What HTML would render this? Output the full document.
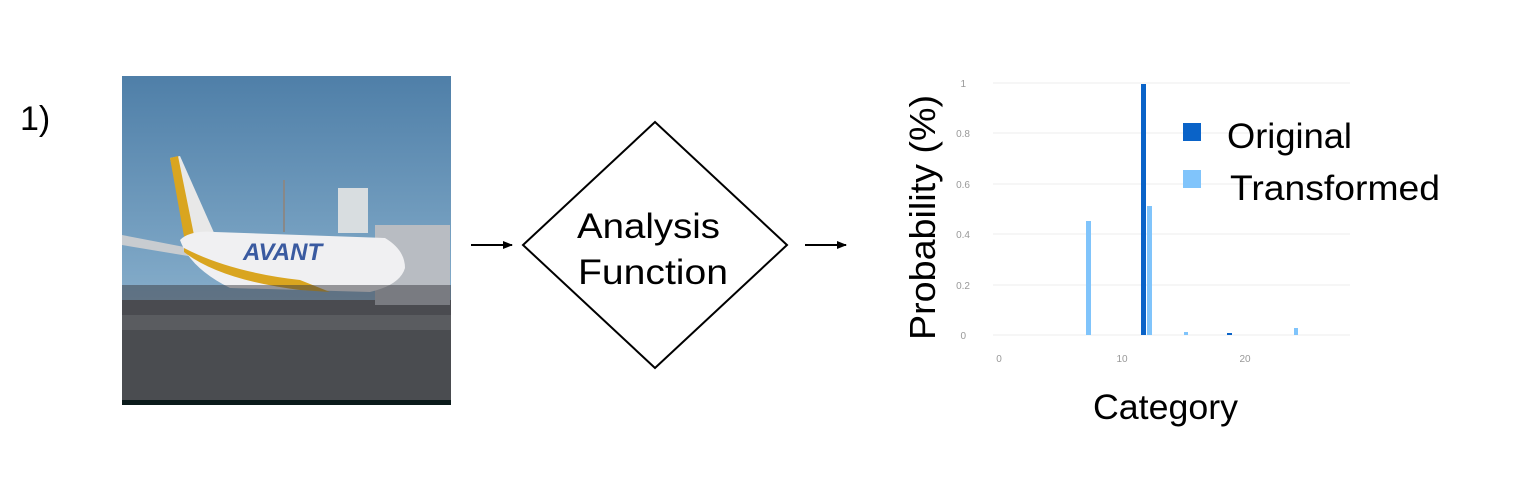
<!DOCTYPE html>
<html><head><style>
body{margin:0;width:1522px;height:476px;background:#fff;overflow:hidden;font-family:"Liberation Sans",sans-serif}
</style></head><body>
<svg width="1522" height="476" viewBox="0 0 1522 476" xmlns="http://www.w3.org/2000/svg" font-family="Liberation Sans, sans-serif">
<defs>
<linearGradient id="sky" x1="0" y1="0" x2="0" y2="1"><stop offset="0" stop-color="#4f7fa8"/><stop offset="0.6" stop-color="#7ea7c6"/><stop offset="1" stop-color="#a7c0d2"/></linearGradient>
<marker id="ah" markerWidth="10" markerHeight="10" refX="9" refY="5" orient="auto" markerUnits="userSpaceOnUse"><path d="M0,1 L10,5 L0,9 z" fill="#000"/></marker>
</defs>
<text x="20" y="130" font-size="34">1)</text>
<!-- photo -->
<rect x="122" y="76" width="329" height="329" fill="url(#sky)"/>
<rect x="122" y="300" width="329" height="105" fill="#5a5c60"/>
<rect x="122" y="330" width="329" height="75" fill="#4a4c50"/>
<rect x="122" y="400" width="329" height="5" fill="#0a1a1a"/>
<rect x="338" y="188" width="30" height="45" fill="#d8dde0"/>
<rect x="375" y="225" width="75" height="80" fill="#b8bcc2"/>
<line x1="284" y1="180" x2="284" y2="232" stroke="#888" stroke-width="2"/>
<path d="M122,235 L200,250 L200,258 L122,245 Z" fill="#c8ccd0"/>
<path d="M170,158 L180,156 L215,235 L190,240 Z" fill="#e8e8e8"/>
<path d="M170,158 L178,156 L195,240 L185,242 Z" fill="#d9a520"/>
<path d="M180,240 Q190,230 215,232 L385,238 Q405,250 405,268 Q400,285 370,292 L230,288 Q190,268 180,240 Z" fill="#f0f0f2"/>
<path d="M184,248 Q230,272 300,280 L330,292 L300,290 Q220,280 184,252 Z" fill="#d9a520"/>
<text x="243" y="260" font-size="24" font-weight="bold" fill="#3a5aa0" font-style="italic">AVANT</text>
<rect x="122" y="285" width="329" height="30" fill="#3a3a40" opacity="0.5"/>
<!-- arrows -->
<line x1="471" y1="245" x2="512" y2="245" stroke="#000" stroke-width="2" marker-end="url(#ah)"/>
<line x1="805" y1="245" x2="846" y2="245" stroke="#000" stroke-width="2" marker-end="url(#ah)"/>
<!-- diamond -->
<polygon points="655,122 787,245 655,368 523,245" fill="#fff" stroke="#000" stroke-width="2"/>
<text x="577" y="238" font-size="35" textLength="143" lengthAdjust="spacingAndGlyphs">Analysis</text>
<text x="578" y="284" font-size="35" textLength="150" lengthAdjust="spacingAndGlyphs">Function</text>
<!-- chart -->
<g stroke="#eee" stroke-width="1">
<line x1="993" y1="83" x2="1350" y2="83"/><line x1="993" y1="133" x2="1350" y2="133"/>
<line x1="993" y1="184" x2="1350" y2="184"/><line x1="993" y1="234" x2="1350" y2="234"/>
<line x1="993" y1="285" x2="1350" y2="285"/><line x1="993" y1="335" x2="1350" y2="335"/>
</g>
<g font-size="10" fill="#999" text-anchor="end">
<text x="966" y="87">1</text><text x="970" y="137">0.8</text><text x="970" y="188">0.6</text>
<text x="970" y="238">0.4</text><text x="970" y="289">0.2</text><text x="966" y="339">0</text>
</g>
<g font-size="10" fill="#999" text-anchor="middle">
<text x="999" y="362">0</text><text x="1122" y="362">10</text><text x="1245" y="362">20</text>
</g>
<rect x="1086" y="221" width="5" height="114" fill="#80c4fb"/>
<rect x="1141" y="84" width="5" height="251" fill="#0a63c8"/>
<rect x="1147" y="206" width="5" height="129" fill="#80c4fb"/>
<rect x="1184" y="332" width="4" height="3" fill="#80c4fb"/>
<rect x="1227" y="333" width="5" height="2" fill="#0a63c8"/>
<rect x="1294" y="328" width="4" height="7" fill="#80c4fb"/>
<rect x="1183" y="123" width="18" height="18" fill="#0a63c8"/>
<rect x="1183" y="170" width="18" height="18" fill="#80c4fb"/>
<text x="1227" y="148" font-size="35" textLength="125" lengthAdjust="spacingAndGlyphs">Original</text>
<text x="1230" y="200" font-size="35" textLength="210" lengthAdjust="spacingAndGlyphs">Transformed</text>
<text transform="translate(935,340) rotate(-90)" font-size="36" textLength="245" lengthAdjust="spacingAndGlyphs">Probability (%)</text>
<text x="1093" y="419" font-size="35" textLength="145" lengthAdjust="spacingAndGlyphs">Category</text>
</svg>
</body></html>
